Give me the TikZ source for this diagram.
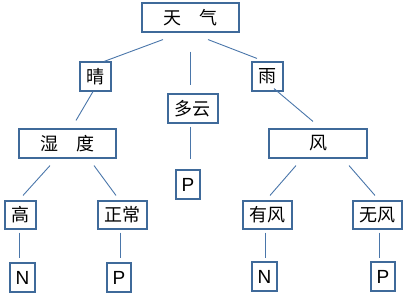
\documentclass[tikz,border=0pt]{standalone}
\usepackage{fontspec}
\setmainfont{Liberation Sans}
\newfontfamily\cjk{Noto Sans CJK SC}
\definecolor{boxc}{HTML}{3F6A9A}
\definecolor{linec}{HTML}{4A76AA}
\begin{document}
\begin{tikzpicture}[x=1pt,y=-1pt,
  bx/.style={draw=boxc,line width=1.1pt,fill=white,inner sep=0pt,minimum height=29pt,font=\cjk\fontsize{18}{18}\selectfont},
  lt/.style={draw=boxc,line width=1.1pt,fill=white,inner sep=0pt,minimum height=29pt,font=\fontsize{19}{19}\selectfont},
  ln/.style={draw=linec,line width=0.9pt}]
\useasboundingbox (0,0) rectangle (408,301);
\node[bx,minimum width=97pt] (tq) at (190.5,17.5) {天\hspace{1em}气};
\node[bx,minimum width=31pt] (qing) at (95.5,76.5) {晴};
\node[bx,minimum width=31pt] (yu) at (267.5,76.5) {雨};
\node[bx,minimum width=50pt] (dy) at (193,108.5) {多云};
\node[bx,minimum width=97pt] (sd) at (67.5,143.5) {湿\hspace{1em}度};
\node[bx,minimum width=98pt] (feng) at (318,143.5) {风};
\node[lt,minimum width=24pt] (p0) at (188,184.5) {P};
\node[bx,minimum width=31pt,minimum height=28pt] (gao) at (20.5,215) {高};
\node[bx,minimum width=49pt,minimum height=28pt] (zc) at (122.5,215) {正常};
\node[bx,minimum width=49pt,minimum height=28pt] (yf) at (267.5,215) {有风};
\node[bx,minimum width=49pt,minimum height=28pt] (wf) at (377.5,215) {无风};
\node[lt,minimum width=25pt] (n1) at (22.5,277.5) {N};
\node[lt,minimum width=24pt] (p1) at (119,277.5) {P};
\node[lt,minimum width=25pt] (n2) at (264.5,276.5) {N};
\node[lt,minimum width=24pt] (p2) at (383,276.5) {P};
\draw[ln] ([shift={(-27.5,7)}]tq.south) -- ([shift={(8.5,0)}]qing.north);
\draw[ln] ([shift={(-0.5,19)}]tq.south) -- ([shift={(-3,-8)}]dy.north);
\draw[ln] ([shift={(17.5,7)}]tq.south) -- ([shift={(-10.5,-3)}]yu.north);
\draw[ln] ([shift={(-2.5,0)}]qing.south) -- ([shift={(8.5,-8)}]sd.north);
\draw[ln] ([shift={(6.5,-3)}]yu.south) -- ([shift={(-5,-7)}]feng.north);
\draw[ln] ([shift={(-3,3)}]dy.south) -- ([shift={(2,-10)}]p0.north);
\draw[ln] ([shift={(-17.5,7)}]sd.south) -- ([shift={(2.5,-5)}]gao.north);
\draw[ln] ([shift={(26.5,7)}]sd.south) -- ([shift={(-6.5,-5)}]zc.north);
\draw[ln] ([shift={(-22,7)}]feng.south) -- ([shift={(2.5,-5)}]yf.north);
\draw[ln] ([shift={(31,7)}]feng.south) -- ([shift={(-2.5,-5)}]wf.north);
\draw[ln] ([shift={(-1.5,3)}]gao.south) -- ([shift={(-3.5,-4)}]n1.north);
\draw[ln] ([shift={(-2.5,3)}]zc.south) -- ([shift={(1,-4)}]p1.north);
\draw[ln] ([shift={(-2.5,3)}]yf.south) -- ([shift={(0.5,-3)}]n2.north);
\draw[ln] ([shift={(1.5,3)}]wf.south) -- ([shift={(-4,-3)}]p2.north);
\end{tikzpicture}
\end{document}
